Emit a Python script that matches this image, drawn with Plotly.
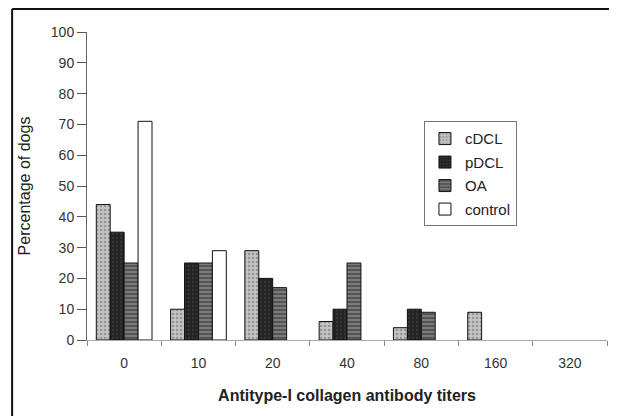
import plotly.graph_objects as go

categories = ["0", "10", "20", "40", "80", "160", "320"]
cDCL = [44, 10, 29, 6, 4, 9, 0]
pDCL = [35, 25, 20, 10, 10, 0, 0]
OA = [25, 25, 17, 25, 9, 0, 0]
control = [71, 29, 0, 0, 0, 0, 0]

series = [
    ("cDCL", cDCL, dict(shape=".", bgcolor="#c4c4c4", fgcolor="#666666", size=4, solidity=0.35)),
    ("pDCL", pDCL, dict(shape=".", bgcolor="#222222", fgcolor="#4a4a4a", size=4, solidity=0.3)),
    ("OA", OA, dict(shape="-", bgcolor="#7a7a7a", fgcolor="#1a1a1a", size=4, solidity=0.4)),
    ("control", control, None),
]

fig = go.Figure()
for name, vals, pat in series:
    marker = dict(line=dict(color="#111111", width=1))
    if pat is None:
        marker["color"] = "white"
    else:
        marker["color"] = pat["bgcolor"]
        marker["pattern"] = pat
    shown = [v if v > 0 else None for v in vals]
    fig.add_trace(go.Bar(name=name, x=categories, y=shown, marker=marker, legendgroup=name))

font = "Liberation Sans, Arial, sans-serif"
fig.update_layout(
    width=617, height=416,
    margin=dict(l=79, r=18, t=24, b=84, autoexpand=False),
    paper_bgcolor="white", plot_bgcolor="white",
    barmode="group", bargap=0.25, bargroupgap=0,
    font=dict(family=font, size=14, color="#222222"),
    showlegend=True,
    legend=dict(x=0.648, y=0.71, xanchor="left", yanchor="top",
                bordercolor="#777777", borderwidth=1, bgcolor="white",
                font=dict(size=15, color="#222222"), tracegroupgap=1,
                itemwidth=30),
    xaxis=dict(type="category", tickson="boundaries", ticks="outside", ticklen=5,
               tickcolor="#888888", showline=True, linecolor="#aaaaaa", linewidth=1,
               showgrid=False, tickfont=dict(size=14, color="#333333"),
               ticklabelstandoff=10, automargin=False,
               title=dict(text="<b>Antitype-I collagen antibody titers</b>",
                          font=dict(size=16, color="#222222"), standoff=20),
               range=[-0.5, 6.5]),
    yaxis=dict(range=[0, 100], dtick=10, ticks="outside", ticklen=9, tickcolor="#555555",
               showline=True, linecolor="#666666", linewidth=1, showgrid=False,
               zeroline=False, tickfont=dict(size=14, color="#333333"), automargin=False,
               title=dict(text="Percentage of dogs", font=dict(size=16, color="#222222"),
                          standoff=16)),
)

# outer frame lines (top and left)
fig.add_shape(type="line", xref="paper", yref="paper", x0=-0.144, x1=1.03,
              y0=1.0747, y1=1.0747, line=dict(color="#111111", width=2))
fig.add_shape(type="line", xref="paper", yref="paper", x0=-0.144, x1=-0.144,
              y0=1.0747, y1=-0.3, line=dict(color="#111111", width=2))

fig.write_html("out.html")
